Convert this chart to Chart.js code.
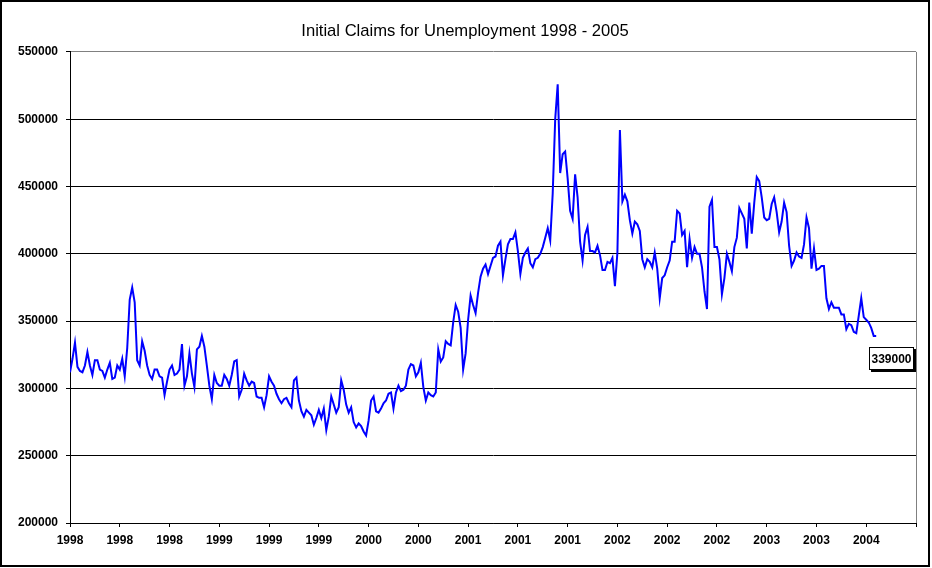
<!DOCTYPE html>
<html>
<head>
<meta charset="utf-8">
<title>Initial Claims for Unemployment 1998 - 2005</title>
<script src="https://cdn.jsdelivr.net/npm/chart.js@4.4.1/dist/chart.umd.min.js"></script>
<style>
  html, body { margin: 0; padding: 0; background: #ffffff; }
  canvas { display: block; }
</style>
</head>
<body>
<canvas id="chartCanvas" width="932" height="568"></canvas>
<script>
// labels under every 20th week (last tick has no label)
const tickLabels = ['1998', '1998', '1998', '1999', '1999', '1999', '2000', '2000', '2001',
  '2001', '2001', '2002', '2002', '2002', '2003', '2003', '2004', ''];
const weeksPerTick = 20;

// weekly initial claims, from the first week of 1998
const claims = [
  312000, 322000, 334000, 316000, 313000, 312000, 317000, 327000, 317000, 310000,
  321000, 321000, 314000, 313000, 308000, 314000, 319000, 307000, 308000, 317000,
  314000, 322000, 309000, 330000, 366000, 375000, 364000, 321000, 317000, 335000,
  328000, 317000, 310000, 307000, 314000, 314000, 309000, 308000, 295000, 305000,
  314000, 317000, 310000, 311000, 314000, 333000, 302000, 309000, 326000, 311000,
  301000, 329000, 331000, 339000, 331000, 317000, 302000, 292000, 310000, 304000,
  302000, 302000, 310000, 307000, 302000, 310000, 320000, 321000, 294000, 299000,
  311000, 306000, 302000, 305000, 304000, 294000, 293000, 293000, 286000, 295000,
  309000, 305000, 302000, 296000, 292000, 289000, 292000, 293000, 289000, 286000,
  306000, 308000, 291000, 283000, 279000, 284000, 282000, 280000, 273000, 278000,
  284000, 278000, 285000, 269000, 279000, 294000, 288000, 282000, 286000, 306000,
  299000, 288000, 282000, 286000, 275000, 271000, 274000, 272000, 268000, 265000,
  276000, 291000, 294000, 283000, 282000, 285000, 289000, 291000, 296000, 297000,
  285000, 297000, 302000, 298000, 299000, 302000, 314000, 318000, 317000, 309000,
  312000, 319000, 301000, 291000, 297000, 295000, 294000, 297000, 329000, 320000,
  323000, 335000, 333000, 332000, 349000, 362000, 357000, 345000, 314000, 326000,
  351000, 369000, 362000, 356000, 371000, 383000, 389000, 392000, 385000, 391000,
  397000, 398000, 406000, 409000, 384000, 396000, 407000, 411000, 411000, 416000,
  402000, 385000, 397000, 401000, 404000, 393000, 390000, 396000, 397000, 400000,
  405000, 412000, 419000, 410000, 445000, 500000, 526000, 460000, 474000, 476000,
  456000, 432000, 426000, 459000, 442000, 409000, 395000, 414000, 420000, 402000,
  402000, 401000, 406000, 399000, 388000, 388000, 394000, 393000, 397000, 376000,
  401000, 492000, 439000, 444000, 439000, 425000, 415000, 424000, 422000, 417000,
  396000, 390000, 396000, 394000, 390000, 401000, 389000, 367000, 382000, 384000,
  390000, 395000, 409000, 409000, 432000, 430000, 414000, 417000, 390000, 411000,
  397000, 405000, 400000, 400000, 390000, 372000, 359000, 435000, 440000, 405000,
  405000, 396000, 370000, 382000, 400000, 394000, 387000, 405000, 412000, 434000,
  430000, 426000, 404000, 438000, 415000, 438000, 457000, 454000, 442000, 427000,
  425000, 426000, 437000, 442000, 431000, 416000, 424000, 438000, 431000, 406000,
  391000, 395000, 401000, 398000, 397000, 407000, 427000, 419000, 389000, 404000,
  388000, 389000, 391000, 391000, 367000, 359000, 364000, 360000, 360000, 360000,
  355000, 355000, 344000, 348000, 347000, 342000, 341000, 354000, 367000, 353000,
  351000, 349000, 345000, 339000, 339000
];

const fontFamily = '"Liberation Sans", Arial, Helvetica, sans-serif';

// gray border on top/right of the plot area and black frame round the chart
const framePlugin = {
  id: 'frame',
  beforeDatasetsDraw(chart) {
    const { ctx, chartArea } = chart;
    ctx.save();
    ctx.strokeStyle = '#808080';
    ctx.lineWidth = 1;
    ctx.beginPath();
    ctx.moveTo(Math.round(chartArea.right) + 0.5, chartArea.top);
    ctx.lineTo(Math.round(chartArea.right) + 0.5, chartArea.bottom);
    ctx.stroke();
    ctx.restore();
  },
  afterDraw(chart) {
    const ctx = chart.ctx;
    ctx.save();
    ctx.strokeStyle = '#000000';
    ctx.lineWidth = 2;
    ctx.strokeRect(1, 1, 928, 565);
    ctx.restore();
  }
};

// data label with shadow on the last point
const lastLabelPlugin = {
  id: 'lastLabel',
  afterDatasetsDraw(chart) {
    const meta = chart.getDatasetMeta(0);
    const pt = meta.data[meta.data.length - 1];
    const text = String(claims[claims.length - 1]);
    const ctx = chart.ctx;
    ctx.save();
    ctx.font = 'bold 12px ' + fontFamily;
    const w = Math.round(ctx.measureText(text).width + 5);
    const h = 23;
    const bx = Math.round(pt.x - 7);
    const by = Math.round(pt.y + 11);
    ctx.fillStyle = '#000000';
    ctx.fillRect(bx + 2, by + 2, w, h);
    ctx.fillStyle = '#ffffff';
    ctx.fillRect(bx, by, w, h);
    ctx.strokeStyle = '#000000';
    ctx.lineWidth = 1;
    ctx.strokeRect(bx + 0.5, by + 0.5, w - 1, h - 1);
    ctx.fillStyle = '#000000';
    ctx.textAlign = 'center';
    ctx.textBaseline = 'middle';
    ctx.fillText(text, bx + w / 2, by + h / 2 + 1);
    ctx.restore();
  }
};

const ctx = document.getElementById('chartCanvas').getContext('2d');

new Chart(ctx, {
  type: 'line',
  data: {
    datasets: [{
      label: 'Initial Claims',
      data: claims.map((v, i) => ({ x: i, y: v })),
      borderColor: '#0000ff',
      borderWidth: 2,
      pointRadius: 0,
      tension: 0,
      fill: false
    }]
  },
  options: {
    responsive: false,
    animation: false,
    devicePixelRatio: 1,
    layout: { padding: { left: 14, right: 16, top: 0, bottom: 0 } },
    plugins: {
      legend: { display: false },
      tooltip: { enabled: false },
      title: {
        display: true,
        text: 'Initial Claims for Unemployment 1998 - 2005',
        color: '#000000',
        font: { family: fontFamily, size: 16.6, weight: 'normal' },
        padding: { top: 21, bottom: 11 }
      }
    },
    scales: {
      x: {
        type: 'linear',
        min: 0,
        max: tickLabels.length * weeksPerTick - weeksPerTick,
        afterFit: scale => { scale.height = 45; },
        border: { color: '#000000', width: 1 },
        grid: { drawOnChartArea: false, drawTicks: true, tickLength: 4, color: '#000000' },
        ticks: {
          stepSize: weeksPerTick,
          autoSkip: false,
          maxRotation: 0,
          padding: 6,
          color: '#000000',
          font: { family: fontFamily, size: 12, weight: 'bold' },
          callback: v => tickLabels[Math.round(v / weeksPerTick)] ?? ''
        }
      },
      y: {
        min: 200000,
        max: 550000,
        afterFit: scale => { scale.width = 56; },
        border: { color: '#000000', width: 1 },
        grid: {
          color: c => (c.tick && c.tick.value === 550000 ? '#808080' : '#000000'),
          tickColor: '#000000',
          tickLength: 4,
          lineWidth: 1
        },
        ticks: {
          stepSize: 50000,
          padding: 8,
          color: '#000000',
          font: { family: fontFamily, size: 12, weight: 'bold' },
          callback: v => String(v)
        }
      }
    }
  },
  plugins: [framePlugin, lastLabelPlugin]
});
</script>
</body>
</html>
